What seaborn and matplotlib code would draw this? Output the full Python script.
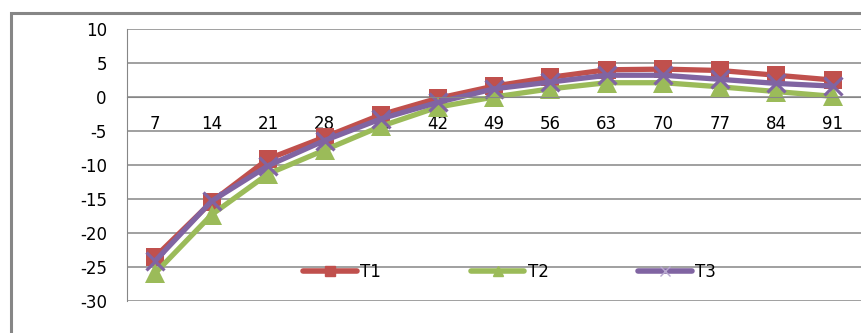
import matplotlib
matplotlib.use("Agg")
import matplotlib.pyplot as plt
import numpy as np
import pandas as pd
import seaborn as sns
from matplotlib.lines import Line2D
from matplotlib.patches import Rectangle

days = [7, 14, 21, 28, 35, 42, 49, 56, 63, 70, 77, 84, 91]
t1 = [-23.5, -15.4, -9.1, -5.9, -2.6, -0.2, 1.6, 2.9, 4.0, 4.1, 3.9, 3.2, 2.5]
t2 = [-25.9, -17.3, -11.3, -7.8, -4.3, -1.5, 0.0, 1.2, 2.1, 2.1, 1.5, 0.8, 0.1]
t3 = [-24.1, -15.3, -10.1, -6.4, -3.2, -0.8, 1.2, 2.2, 3.2, 3.2, 2.6, 2.0, 1.6]

series = ["T1", "T2", "T3"]
colors = {"T1": "#C0504D", "T2": "#9BBB59", "T3": "#8064A2"}
markers = {"T1": "s", "T2": "^", "T3": "x"}

df = pd.DataFrame({
    "pos": list(range(len(days))) * 3,
    "value": t1 + t2 + t3,
    "series": [s for s in series for _ in days],
})

sns.set_style("white")
plt.rcParams["font.family"] = ["DejaVu Sans"]
plt.rcParams["axes.unicode_minus"] = False
FS = 12

fig = plt.figure(figsize=(8.61, 3.33), dpi=100)
ax = fig.add_axes([127 / 861, 1 - 301 / 333, 1 - 127 / 861, (301 - 29) / 333])

for name in series:
    sub = df[df["series"] == name]
    sns.lineplot(
        data=sub, x="pos", y="value", ax=ax, color=colors[name], linewidth=3.8,
        marker=markers[name], markersize=12.5 if name == "T1" else (14 if name == "T2" else 12.5),
        markeredgewidth=0 if name != "T3" else 2.3,
        markeredgecolor=colors[name], legend=False, solid_capstyle="round",
    )

grid_c = "#868686"
ax.set_ylim(-30, 10)
ax.set_yticks(np.arange(-30, 11, 5))
ax.set_xlim(-0.5, len(days) - 0.5)
for y in np.arange(-30, 11, 5):
    ax.axhline(y, color=grid_c, linewidth=1.1, zorder=0)

ax.spines["bottom"].set_position(("data", 0))
ax.spines["bottom"].set_color(grid_c)
ax.spines["left"].set_color(grid_c)
ax.spines["top"].set_visible(False)
ax.spines["right"].set_visible(False)

ax.set_xticks(np.arange(-0.5, len(days), 1))
ax.set_xticklabels([])
ax.set_xticks(range(len(days)), minor=True)
ax.set_xticklabels([str(d) for d in days], minor=True)
ax.tick_params(axis="x", which="major", direction="out", length=6, color=grid_c, width=1)
ax.tick_params(axis="x", which="minor", length=0, pad=13, labelsize=FS, labelcolor="black")
ax.tick_params(axis="y", direction="out", length=6.5, color=grid_c, width=1,
               pad=8, labelsize=FS, labelcolor="black")
ax.set_xlabel("")
ax.set_ylabel("")

handles = [
    Line2D([], [], color=colors["T1"], lw=4, marker="s", markersize=7, solid_capstyle="round"),
    Line2D([], [], color=colors["T2"], lw=4, marker="^", markersize=7, solid_capstyle="round"),
    Line2D([], [], color=colors["T3"], lw=4, marker="x", markersize=7, markeredgewidth=1,
           markeredgecolor="#b8a8d0", solid_capstyle="round"),
]
fig.legend(handles, series, loc="center", bbox_to_anchor=(0.592, 0.183), ncol=3,
           frameon=False, fontsize=FS, handlelength=3.2, handletextpad=0.2,
           columnspacing=5.4, labelcolor="black")

fig.patches.append(Rectangle((11 / 861, -0.1), 1.2, 1 - 13 / 333 + 0.1, fill=False,
                             edgecolor=grid_c, linewidth=2.2, transform=fig.transFigure))

fig.savefig("out.png", dpi=100)
